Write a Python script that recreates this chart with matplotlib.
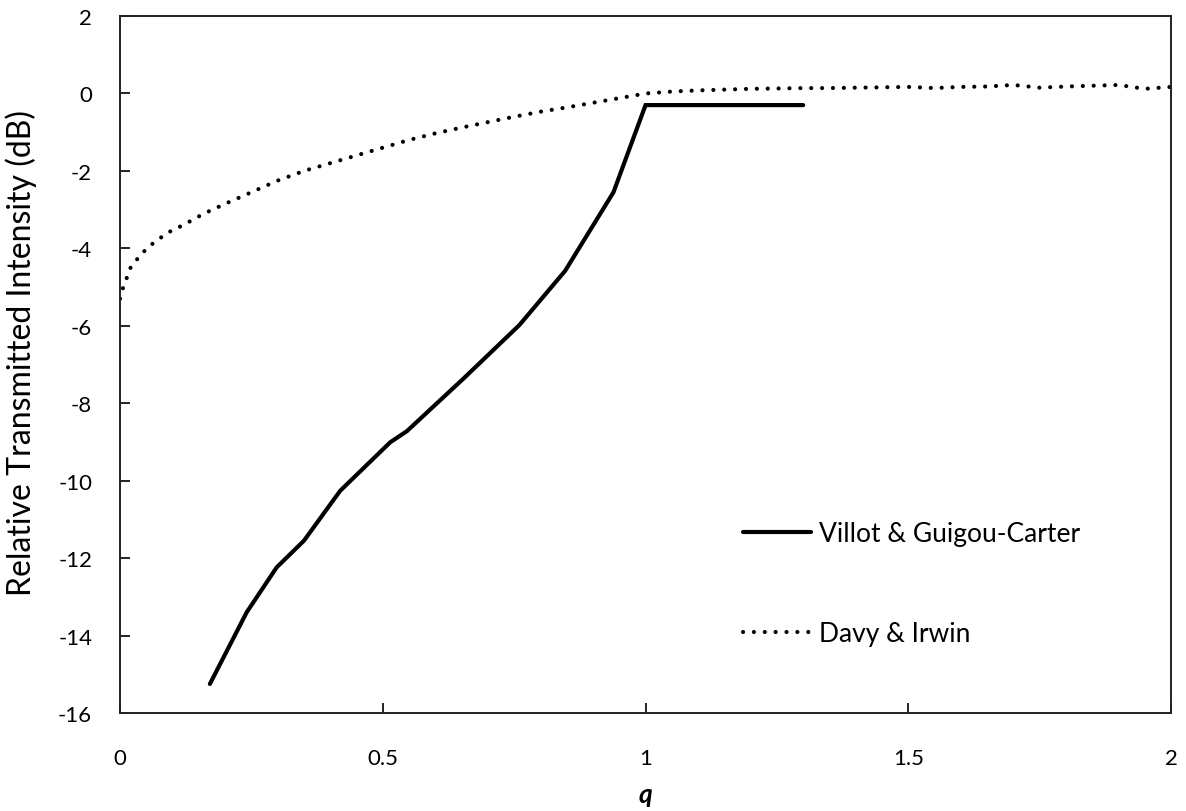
import matplotlib.pyplot as plt

# Villot & Guigou-Carter (solid)
q_villot = [0.171, 0.241, 0.298, 0.35, 0.419, 0.514, 0.546, 0.653, 0.76, 0.847, 0.939, 1.0, 1.3]
db_villot = [-15.25, -13.40, -12.24, -11.55, -10.26, -9.01, -8.72, -7.37, -5.98, -4.58, -2.55, -0.3, -0.3]

# Davy & Irwin (dotted)
q_davy = [0.0, 0.005, 0.02, 0.04, 0.06, 0.09, 0.12, 0.16, 0.2, 0.25, 0.3, 0.35, 0.4,
          0.45, 0.5, 0.55, 0.6, 0.65, 0.7, 0.75, 0.8, 0.85, 0.9, 0.95, 1.0, 1.05,
          1.1, 1.15, 1.2, 1.25, 1.3, 1.35, 1.4, 1.45, 1.5, 1.55, 1.6, 1.65, 1.7,
          1.75, 1.8, 1.85, 1.9, 1.95, 2.0]
db_davy = [-5.3, -5.05, -4.5, -4.15, -3.9, -3.6, -3.4, -3.1, -2.85, -2.55, -2.25, -2.0, -1.8,
           -1.6, -1.4, -1.2, -1.03, -0.88, -0.74, -0.6, -0.47, -0.36, -0.24, -0.12, 0.0, 0.05,
           0.08, 0.1, 0.12, 0.13, 0.14, 0.14, 0.15, 0.16, 0.17, 0.14, 0.17, 0.18, 0.22,
           0.15, 0.18, 0.2, 0.22, 0.12, 0.17]

plt.rcParams['font.family'] = ['Lato', 'DejaVu Sans']
plt.rcParams['axes.unicode_minus'] = False

fig = plt.figure(figsize=(11.86, 8.12), dpi=100)
ax = fig.add_axes([0.1012, 0.1207, 0.8862, 0.8583])

ax.plot(q_villot, db_villot, color='black', lw=3, solid_capstyle='round',
        solid_joinstyle='miter', label='Villot & Guigou-Carter')
ax.plot(q_davy, db_davy, color='black', lw=3, dashes=(0.01, 2.6),
        dash_capstyle='round', label='Davy & Irwin')

ax.set_xlim(0, 2)
ax.set_ylim(-16, 2)
ax.set_xticks([0, 0.5, 1, 1.5, 2])
ax.set_xticklabels(['0', '0.5', '1', '1.5', '2'])
ax.set_yticks(range(-16, 3, 2))
ax.tick_params(direction='in', length=7, width=1.2, labelsize=16)
ax.tick_params(axis='x', pad=25)
ax.tick_params(axis='y', pad=20)
for s in ax.spines.values():
    s.set_linewidth(1.4)
    s.set_color('#222222')

ax.set_xlabel('q', fontsize=19, fontweight='bold', fontstyle='italic', labelpad=10)
ax.set_ylabel('Relative Transmitted Intensity (dB)', fontsize=23)
ax.yaxis.set_label_coords(-0.079, 0.518)

ax.legend(loc='upper left', bbox_to_anchor=(0.58, 0.294), frameon=False,
          borderpad=0, fontsize=19, handlelength=2.6, handletextpad=0.3,
          labelspacing=2.85)

plt.savefig('out.png')
